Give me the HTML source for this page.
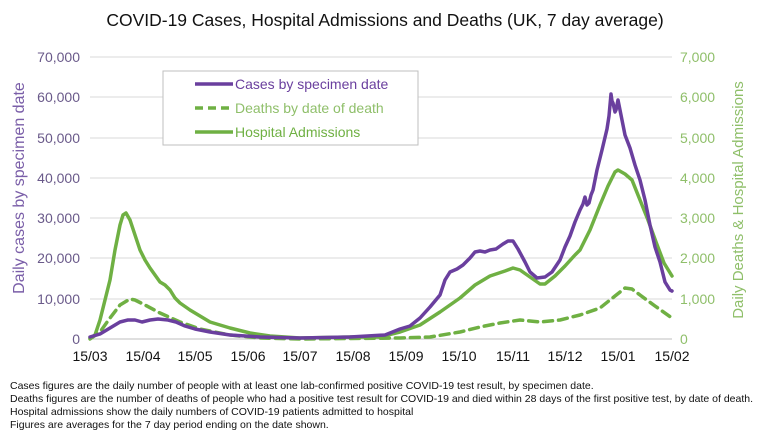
<!DOCTYPE html>
<html><head><meta charset="utf-8"><style>
body{margin:0;background:#fff;width:770px;height:440px;overflow:hidden;font-family:"Liberation Sans",sans-serif}
</style></head><body>
<svg width="770" height="440" xmlns="http://www.w3.org/2000/svg" font-family="Liberation Sans, sans-serif">
<text x="385" y="26" text-anchor="middle" font-size="17.5" fill="#111">COVID-19 Cases, Hospital Admissions and Deaths (UK, 7 day average)</text>
<g stroke="#d9d9d9" stroke-width="1">
<line x1="90" x2="672" y1="57" y2="57"/><line x1="90" x2="672" y1="97" y2="97"/><line x1="90" x2="672" y1="138" y2="138"/><line x1="90" x2="672" y1="178" y2="178"/><line x1="90" x2="672" y1="218" y2="218"/><line x1="90" x2="672" y1="258" y2="258"/><line x1="90" x2="672" y1="299" y2="299"/>
</g>
<line x1="90" x2="672" y1="339" y2="339" stroke="#bfbfbf"/>
<g font-size="14" fill="#6a5a8a" text-anchor="end">
<text x="80" y="62">70,000</text><text x="80" y="102">60,000</text><text x="80" y="143">50,000</text><text x="80" y="183">40,000</text><text x="80" y="223">30,000</text><text x="80" y="263">20,000</text><text x="80" y="304">10,000</text><text x="80" y="344">0</text>
</g>
<g font-size="14" fill="#8fbf6a">
<text x="680" y="62">7,000</text><text x="680" y="102">6,000</text><text x="680" y="143">5,000</text><text x="680" y="183">4,000</text><text x="680" y="223">3,000</text><text x="680" y="263">2,000</text><text x="680" y="304">1,000</text><text x="680" y="344">0</text>
</g>
<g font-size="14" fill="#111" text-anchor="middle">
<text x="90" y="361">15/03</text><text x="143" y="361">15/04</text><text x="195" y="361">15/05</text><text x="248" y="361">15/06</text><text x="300" y="361">15/07</text><text x="353" y="361">15/08</text><text x="406" y="361">15/09</text><text x="459" y="361">15/10</text><text x="513" y="361">15/11</text><text x="565" y="361">15/12</text><text x="618" y="361">15/01</text><text x="672" y="361">15/02</text>
</g>
<text transform="translate(24,188) rotate(-90)" text-anchor="middle" font-size="16" fill="#7a5ea8">Daily cases by specimen date</text>
<text transform="translate(743,200) rotate(-90)" text-anchor="middle" font-size="15" fill="#8fbf6a">Daily Deaths &amp; Hospital Admissions</text>
<g fill="none" stroke-width="3.5" stroke-linejoin="round" stroke-linecap="round">
<polyline stroke="#6fb043" stroke-dasharray="9,6" points="90,339 100,332 110,318 120,305 130,299 135,300 145,305 160,313 180,322 200,329 230,335 260,338 300,339 400,338 430,337 460,332 480,327 500,323 520,320 540,322 560,320 580,315 600,308 615,296 625,288 632,289 640,295 655,306 672,318"/>
<polyline stroke="#6fb043" points="90,338 95,335 100,320 105,300 110,280 115,250 120,225 123,215 126,213 130,220 135,235 140,250 145,260 150,268 155,275 160,282 165,285 170,290 175,298 180,303 190,310 200,316 210,322 220,325 230,328 250,333 270,336 300,338 350,337 380,337 400,332 420,325 440,312 460,298 475,285 490,276 505,271 513,268 520,270 530,277 540,284 545,284 555,276 565,266 575,255 580,250 590,230 600,205 608,186 615,172 618,170 625,174 632,180 640,200 648,220 656,242 664,263 672,276"/>
<polyline stroke="#6a3f9e" points="90,337 100,334 110,328 120,322 128,320 135,320 142,322 150,320 158,319 168,320 176,322 185,326 195,329 210,332 230,335 260,337 300,338 350,337 385,335 400,329 410,326 420,318 430,307 440,295 445,280 450,272 457,269 463,265 470,258 475,252 480,251 485,252 490,250 496,249 503,244 508,241 513,241 518,249 525,262 530,272 537,278 545,277 552,272 560,260 565,247 570,236 575,222 580,210 583,204 585,197 587,205 589,203 591,195 593,190 597,170 602,150 607,129 609,116 611,94 612,101 613,103 615,112 616,110 618,100 620,110 625,135 630,148 635,165 640,180 645,200 650,225 655,247 660,262 665,282 670,290 672,291"/>
</g>
<rect x="163" y="71" width="255" height="74" fill="#fff" stroke="#bfbfbf"/>
<g stroke-width="3.5">
<line x1="195" x2="233" y1="84" y2="84" stroke="#6a3f9e"/>
<line x1="195" x2="233" y1="108" y2="108" stroke="#6fb043" stroke-dasharray="8,5"/>
<line x1="195" x2="233" y1="132" y2="132" stroke="#6fb043"/>
</g>
<g font-size="14">
<text x="235" y="89" fill="#6a3f9e">Cases by specimen date</text>
<text x="235" y="113" fill="#8fbf6a">Deaths by date of death</text>
<text x="235" y="137" fill="#6fb043">Hospital Admissions</text>
</g>
<g font-size="10.5" fill="#111">
<text x="10" y="389">Cases figures are the daily number of people with at least one lab-confirmed positive COVID-19 test result, by specimen date.</text>
<text x="10" y="402">Deaths figures are the number of deaths of people who had a positive test result for COVID-19 and died within 28 days of the first positive test, by date of death.</text>
<text x="10" y="415">Hospital admissions show the daily numbers of COVID-19 patients admitted to hospital</text>
<text x="10" y="428">Figures are averages for the 7 day period ending on the date shown.</text>
</g>
</svg>
</body></html>
